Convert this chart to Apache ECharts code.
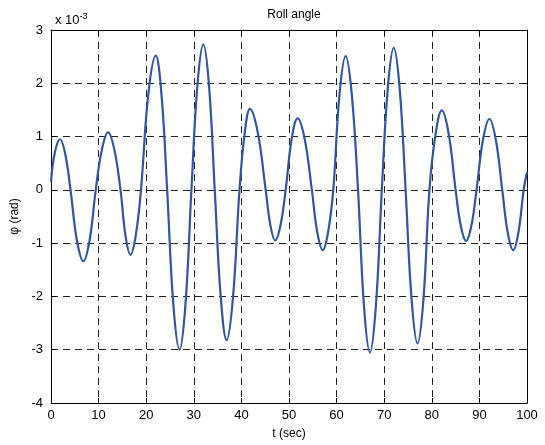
<!DOCTYPE html>
<html>
<head>
<meta charset="utf-8">
<script src="https://cdn.jsdelivr.net/npm/echarts@6/dist/echarts.min.js"></script>
<style>
html,body{margin:0;padding:0;background:#fff;}
#wrap{width:545px;height:445px;}
</style>
</head>
<body>
<div id="wrap"></div>
<script>
// time (sec) and roll angle (x 10^-3 rad)
var tSec = [0, 0.8, 1.9, 3.0, 4.1, 5.45, 6.8, 8.1, 9.4, 10.7, 12.0, 13.3, 14.6, 15.65, 16.7, 17.8, 18.9,
    20.45, 22.0, 23.2, 24.4, 25.7, 27.0, 28.25, 29.5, 30.75, 32.0, 33.2, 34.4, 35.65, 36.9, 38.25, 39.6,
    40.7, 41.8, 43.45, 45.1, 46.1, 47.1, 48.2, 49.3, 50.55, 51.8, 53.3, 54.8, 55.95, 57.1, 58.2, 59.3,
    60.6, 61.9, 63.2, 64.5, 65.75, 67.0, 68.25, 69.5, 70.75, 72.0, 73.25, 74.5, 75.75, 77.0, 78.25, 79.5,
    80.8, 82.1, 83.55, 85.0, 86.1, 87.2, 88.3, 89.4, 90.75, 92.1, 93.45, 94.8, 95.95, 97.1, 98.2, 99.3, 100];
var phi = [0.15, 0.7, 0.95, 0.67, 0, -0.95, -1.34, -0.95, 0, 0.76, 1.08, 0.76, 0, -0.86, -1.22, -0.86, 0,
    1.8, 2.52, 1.8, 0, -2.15, -3.0, -2.15, 0, 1.95, 2.73, 1.95, 0, -2.0, -2.82, -2.0, 0,
    1.07, 1.52, 1.07, 0, -0.67, -0.95, -0.67, 0, 0.95, 1.34, 0.95, 0, -0.8, -1.13, -0.8, 0,
    1.78, 2.51, 1.78, 0, -2.18, -3.05, -2.18, 0, 1.9, 2.67, 1.9, 0, -2.05, -2.88, -2.05, 0,
    1.05, 1.49, 1.05, 0, -0.68, -0.96, -0.68, 0, 0.94, 1.33, 0.94, 0, -0.8, -1.13, -0.8, 0, 0.33];
var xTicks = [0, 10, 20, 30, 40, 50, 60, 70, 80, 90, 100];
var yTicks = [-4, -3, -2, -1, 0, 1, 2, 3];

var myChart = echarts.init(document.getElementById('wrap'));
var pts = [];
tSec.forEach(function(t, i) {
    pts.push([t, phi[i]]);
});
var font = 'Liberation Sans, Arial, sans-serif';
var dash = {color: '#222', type: [7, 5], width: 1};

var option = {
    backgroundColor: '#fff',
    animation: false,
    title: [{
        text: 'Roll angle',
        left: 289, top: 4, textAlign: 'center',
        textStyle: {fontFamily: font, fontSize: 12, fontWeight: 'normal', color: '#000'}
    }, {
        text: 'x 10{sup|-3}',
        left: 50, top: 7,
        textStyle: {
            fontFamily: font, fontSize: 13, fontWeight: 'normal', color: '#000',
            rich: {sup: {fontFamily: font, fontSize: 9, color: '#000', verticalAlign: 'top', padding: [0, 0, 8, 0]}}
        }
    }],
    grid: {left: 51, right: 18, top: 30, bottom: 39, containLabel: false, show: false},
    xAxis: [{
        type: 'value', min: xTicks[0], max: xTicks[xTicks.length - 1], interval: 10,
        name: 't (sec)', nameLocation: 'middle', nameGap: 25,
        nameTextStyle: {fontFamily: font, fontSize: 12, color: '#000'},
        axisLine: {onZero: false, lineStyle: {color: '#000', width: 1}},
        axisTick: {inside: true, length: 5, lineStyle: {color: '#000'}},
        axisLabel: {fontFamily: font, fontSize: 13, color: '#000', margin: 6},
        splitLine: {show: true, lineStyle: dash}
    }, {
        type: 'value', min: xTicks[0], max: xTicks[xTicks.length - 1], interval: 10, position: 'top',
        axisLine: {show: true, onZero: false, lineStyle: {color: '#000', width: 1}},
        axisTick: {show: true, inside: true, length: 5, lineStyle: {color: '#000'}},
        axisLabel: {show: false}, splitLine: {show: false}
    }],
    yAxis: [{
        type: 'value', min: yTicks[0], max: yTicks[yTicks.length - 1], interval: 1,
        name: 'φ (rad)', nameLocation: 'middle', nameGap: 25, nameRotate: 90,
        nameTextStyle: {fontFamily: font, fontSize: 12, color: '#000'},
        axisLine: {show: true, onZero: false, lineStyle: {color: '#000', width: 1}},
        axisTick: {show: true, inside: true, length: 5, lineStyle: {color: '#000'}},
        axisLabel: {fontFamily: font, fontSize: 13, color: '#000', margin: 8},
        splitLine: {show: true, lineStyle: dash}
    }, {
        type: 'value', min: yTicks[0], max: yTicks[yTicks.length - 1], interval: 1, position: 'right',
        axisLine: {show: true, onZero: false, lineStyle: {color: '#000', width: 1}},
        axisTick: {show: true, inside: true, length: 5, lineStyle: {color: '#000'}},
        axisLabel: {show: false}, splitLine: {show: false}
    }],
    series: [{
        type: 'line',
        data: pts,
        smooth: 0.4,
        showSymbol: false,
        lineStyle: {color: '#2d55a8', width: 2.2},
        itemStyle: {color: '#2d55a8'}
    }]
};
myChart.setOption(option);
</script>
</body>
</html>
